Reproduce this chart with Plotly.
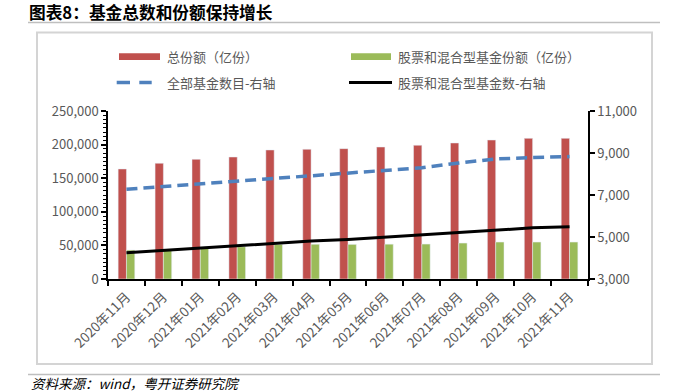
import plotly.graph_objects as go

months = ["2020年11月", "2020年12月", "2021年01月", "2021年02月", "2021年03月", "2021年04月",
          "2021年05月", "2021年06月", "2021年07月", "2021年08月", "2021年09月", "2021年10月", "2021年11月"]
total_shares = [163700, 172200, 178100, 181500, 192000, 193000, 194000, 196400, 199000, 202400, 206800, 209300, 209300]
equity_shares = [43000, 43500, 47000, 48000, 51500, 51700, 51500, 51800, 52000, 53500, 55000, 55000, 55000]
all_funds = [7275, 7400, 7530, 7655, 7810, 7910, 8035, 8180, 8300, 8525, 8715, 8780, 8830]
equity_funds = [4250, 4360, 4470, 4580, 4710, 4805, 4885, 4995, 5105, 5230, 5340, 5435, 5490]
right_ticks = [3000, 5000, 7000, 9000, 11000]

WW, WH = 676, 392
L, R, T, B = 108, 588, 111, 279   # plot area in pixels
FONT = "Noto Sans CJK SC"
GRAY = "#595959"

def px(x):
    return (x - L) / (R - L)

def py(y):
    return (B - y) / (B - T)

fig = go.Figure()
fig.add_trace(go.Bar(x=months, y=total_shares, name="总份额（亿份）", marker_color="#C0504D", showlegend=False))
fig.add_trace(go.Bar(x=months, y=equity_shares, name="股票和混合型基金份额（亿份）", marker_color="#9BBB59", showlegend=False))
fig.add_trace(go.Scatter(x=months, y=all_funds, name="全部基金数目-右轴", yaxis="y2", mode="lines",
                         line=dict(color="#4F81BD", width=3.5, dash="11px,6px"), showlegend=False))
fig.add_trace(go.Scatter(x=months, y=equity_funds, name="股票和混合型基金数-右轴", yaxis="y2", mode="lines",
                         line=dict(color="#000000", width=3), showlegend=False))

shapes = []
annotations = []
# title & frame
shapes.append(dict(type="line", xref="paper", yref="paper", x0=px(28), x1=px(660), y0=py(22.5), y1=py(22.5),
                   line=dict(color="#BFBFBF", width=1.5)))
shapes.append(dict(type="rect", xref="paper", yref="paper", x0=px(37), x1=px(652), y0=py(32.5), y1=py(364),
                   line=dict(color="#D4D4D4", width=2)))
shapes.append(dict(type="line", xref="paper", yref="paper", x0=px(28), x1=px(660), y0=py(374.5), y1=py(374.5),
                   line=dict(color="#BFBFBF", width=1.5)))
annotations.append(dict(text="<b>图表8：基金总数和份额保持增长</b>", xref="paper", yref="paper", x=px(27), y=py(11.5),
                        xanchor="left", yanchor="middle", showarrow=False,
                        font=dict(family=FONT, size=16.7, color="#000000")))
annotations.append(dict(text="资料来源：wind，粤开证券研究院", xref="paper", yref="paper", x=px(29), y=py(383),
                        xanchor="left", yanchor="middle", showarrow=False,
                        font=dict(family=FONT, size=13.5, color="#000000", style="italic")))
# legend
r1, r2 = 56.7, 82.5
shapes.append(dict(type="rect", xref="paper", yref="paper", x0=px(119), x1=px(160), y0=py(53.3), y1=py(60),
                   line=dict(width=0), fillcolor="#C0504D"))
shapes.append(dict(type="rect", xref="paper", yref="paper", x0=px(351), x1=px(391), y0=py(53.3), y1=py(60),
                   line=dict(width=0), fillcolor="#9BBB59"))
for a, b in [(116.7, 130), (139.3, 151.7)]:
    shapes.append(dict(type="line", xref="paper", yref="paper", x0=px(a), x1=px(b), y0=py(r2), y1=py(r2),
                       line=dict(color="#4F81BD", width=3.5)))
shapes.append(dict(type="line", xref="paper", yref="paper", x0=px(349), x1=px(392), y0=py(r2), y1=py(r2),
                   line=dict(color="#000000", width=3)))
for txt, x, y in [("总份额（亿份）", 165, r1), ("股票和混合型基金份额（亿份）", 396, r1),
                  ("全部基金数目-右轴", 165, r2), ("股票和混合型基金数-右轴", 396, r2)]:
    annotations.append(dict(text=txt, xref="paper", yref="paper", x=px(x), y=py(y), xanchor="left",
                            yanchor="middle", showarrow=False, font=dict(family=FONT, size=13, color=GRAY)))

fig.update_layout(
    width=WW, height=WH,
    margin=dict(l=L, r=WW - R, t=T, b=WH - B, pad=0),
    paper_bgcolor="white", plot_bgcolor="white",
    barmode="group", bargap=0.55, bargroupgap=0,
    font=dict(family=FONT, size=13, color=GRAY),
    xaxis=dict(type="category", range=[-0.5, 12.5], showline=True, linecolor="#000000", linewidth=1.5,
               ticks="outside", tickson="boundaries", ticklen=5, tickcolor="#000000", tickwidth=1.5,
               tickangle=-45, ticklabelstandoff=3, tickfont=dict(size=13.5, color=GRAY),
               showgrid=False, zeroline=False),
    yaxis=dict(range=[0, 250000], dtick=50000, tickformat=",", showline=True, linecolor="#000000", linewidth=1.5,
               ticks="outside", ticklen=5, tickcolor="#000000", tickwidth=1.5, showgrid=False, zeroline=False,
               minor=dict(dtick=6250, ticks="outside", ticklen=3, tickcolor="#000000", tickwidth=1),
               tickfont=dict(size=13, color=GRAY)),
    yaxis2=dict(range=[3000, 11000], tickvals=right_ticks, tickformat=",", overlaying="y", side="right",
                showline=True, linecolor="#000000", linewidth=1.5, ticks="outside", ticklen=5,
                tickcolor="#000000", tickwidth=1.5, showgrid=False, zeroline=False,
                tickfont=dict(size=13, color=GRAY)),
    shapes=shapes, annotations=annotations,
)

# remove the browser's default page margin so the figure sits at the window's top-left corner
fig.write_html("out.html", config={"displayModeBar": False},
               post_script="document.body.style.margin='0';")
